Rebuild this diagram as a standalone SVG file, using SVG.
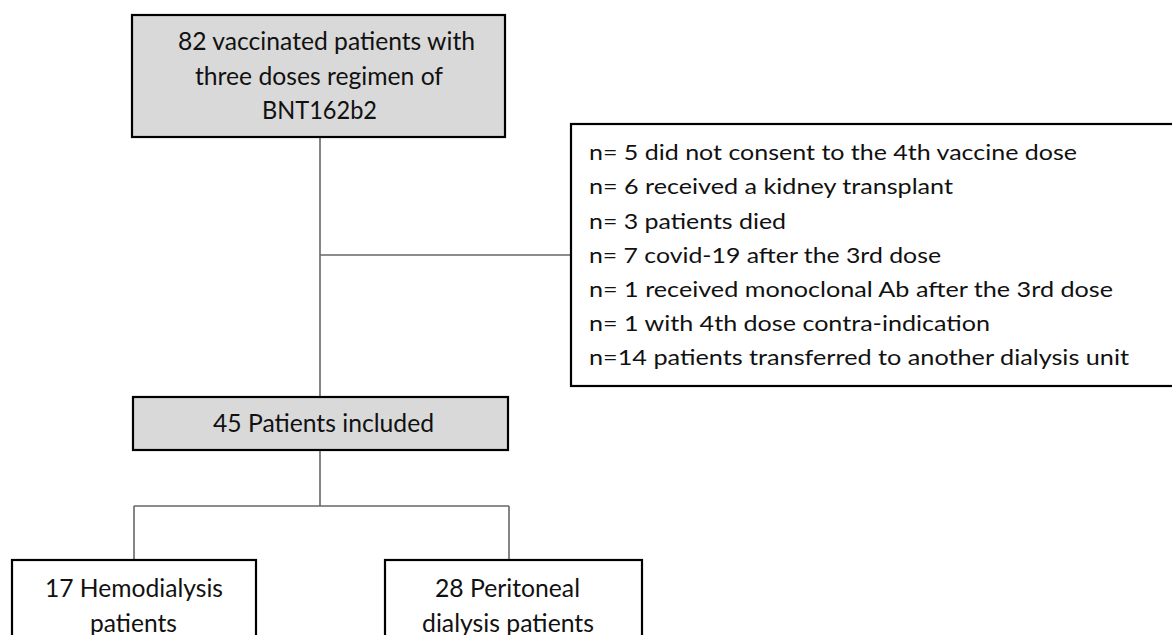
<svg xmlns="http://www.w3.org/2000/svg" width="1172" height="635" viewBox="0 0 1172 635">
<style>
.box{stroke:#000;stroke-width:2.2}
.grey{fill:#d9d9d9}
.white{fill:#fff}
.t{font-family:Lato,"Liberation Sans",sans-serif;fill:#111}
.big{font-size:25px}
.small{font-size:21px}
.conn{stroke:#666;stroke-width:1.6;fill:none}
</style>
<rect width="1172" height="635" fill="#fff"/>
<g id="connectors">
<line class="conn" x1="320" y1="137" x2="320" y2="397"/>
<line class="conn" x1="320" y1="255" x2="571" y2="255"/>
<line class="conn" x1="320" y1="450" x2="320" y2="506"/>
<line class="conn" x1="134" y1="506" x2="509" y2="506"/>
<line class="conn" x1="134" y1="506" x2="134" y2="560"/>
<line class="conn" x1="509" y1="506" x2="509" y2="560"/>
</g>
<g id="node-vaccinated">
<rect class="box grey" x="132" y="15" width="373" height="122"/>
<text class="t big" x="178" y="50" textLength="297" lengthAdjust="spacingAndGlyphs">82 vaccinated patients with</text>
<text class="t big" x="195" y="85" textLength="248" lengthAdjust="spacingAndGlyphs">three doses regimen of</text>
<text class="t big" x="262" y="119" textLength="115" lengthAdjust="spacingAndGlyphs">BNT162b2</text>
</g>
<g id="node-excluded">
<rect class="box white" x="571" y="124" width="610" height="262"/>
<text class="t small" x="589" y="160" textLength="488" lengthAdjust="spacingAndGlyphs">n= 5 did not consent to the 4th vaccine dose</text>
<text class="t small" x="589" y="194.3" textLength="364" lengthAdjust="spacingAndGlyphs">n= 6 received a kidney transplant</text>
<text class="t small" x="589" y="228.5" textLength="197" lengthAdjust="spacingAndGlyphs">n= 3 patients died</text>
<text class="t small" x="589" y="262.5" textLength="352" lengthAdjust="spacingAndGlyphs">n= 7 covid-19 after the 3rd dose</text>
<text class="t small" x="589" y="296.7" textLength="524" lengthAdjust="spacingAndGlyphs">n= 1 received monoclonal Ab after the 3rd dose</text>
<text class="t small" x="589" y="331" textLength="401" lengthAdjust="spacingAndGlyphs">n= 1 with 4th dose contra-indication</text>
<text class="t small" x="589" y="365" textLength="540" lengthAdjust="spacingAndGlyphs">n=14 patients transferred to another dialysis unit</text>
</g>
<g id="node-included">
<rect class="box grey" x="133" y="397" width="375" height="53"/>
<text class="t big" x="213" y="432" textLength="221" lengthAdjust="spacingAndGlyphs">45 Patients included</text>
</g>
<g id="node-hemodialysis">
<rect class="box white" x="12" y="560" width="244" height="90"/>
<text class="t big" x="45" y="597" textLength="178" lengthAdjust="spacingAndGlyphs">17 Hemodialysis</text>
<text class="t big" x="90" y="632" textLength="87" lengthAdjust="spacingAndGlyphs">patients</text>
</g>
<g id="node-peritoneal">
<rect class="box white" x="385" y="560" width="257" height="90"/>
<text class="t big" x="435" y="597" textLength="145" lengthAdjust="spacingAndGlyphs">28 Peritoneal</text>
<text class="t big" x="422" y="632" textLength="172" lengthAdjust="spacingAndGlyphs">dialysis patients</text>
</g>
</svg>
